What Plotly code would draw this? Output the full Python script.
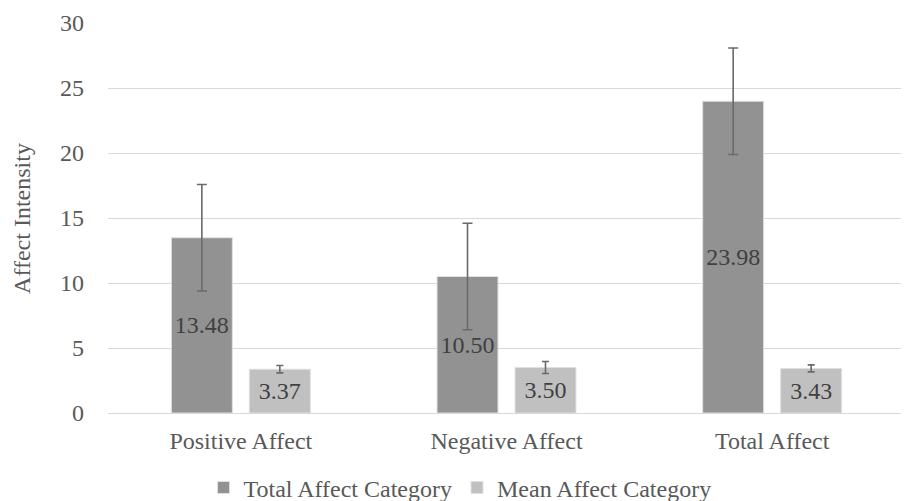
import plotly.graph_objects as go

categories = ["Positive Affect", "Negative Affect", "Total Affect"]
total_vals = [13.48, 10.50, 23.98]
total_err = [4.1, 4.1, 4.1]
mean_vals = [3.37, 3.50, 3.43]
mean_err = [0.28, 0.46, 0.27]
y_ticks = [0, 5, 10, 15, 20, 25, 30]

FONT = "Liberation Serif"
FS = 24

fig = go.Figure()
fig.add_trace(go.Bar(
    name="Total Affect Category", x=categories, y=total_vals,
    marker=dict(color="#929292", line=dict(color="#e0e0e0", width=1)),
    error_y=dict(type="data", array=total_err, color="#6a6a6a", thickness=1.6, width=5),
    text=[f"{v:.2f}" for v in total_vals], textposition="inside",
    insidetextanchor="middle", constraintext="none",
    textfont=dict(family=FONT, size=FS, color="#404040"),
))
fig.add_trace(go.Bar(
    name="Mean Affect Category", x=categories, y=mean_vals,
    marker=dict(color="#c0c0c0", line=dict(color="#e0e0e0", width=1)),
    error_y=dict(type="data", array=mean_err, color="#6a6a6a", thickness=1.6, width=3.5),
    text=[f"{v:.2f}" for v in mean_vals], textposition="inside",
    insidetextanchor="middle", constraintext="none",
    textfont=dict(family=FONT, size=FS, color="#404040"),
))

fig.update_layout(
    width=901, height=493,
    margin=dict(l=100, r=4, t=15, b=88, autoexpand=False),
    paper_bgcolor="white", plot_bgcolor="white",
    barmode="group", bargap=0.413, bargroupgap=0.218,
    font=dict(family=FONT, size=FS, color="#595959"),
    showlegend=True,
    legend=dict(orientation="h", x=0.4417, xanchor="center", y=-0.192, yanchor="middle",
                font=dict(family=FONT, size=FS, color="#595959"),
                itemwidth=30, traceorder="normal"),
    xaxis=dict(showline=True, linecolor="#d9d9d9", linewidth=1, ticks="", automargin=False,
               ticklabelstandoff=6,
               tickfont=dict(family=FONT, size=FS, color="#595959")),
    yaxis=dict(range=[0, 30], tickvals=y_ticks, showgrid=True, gridcolor="#d9d9d9",
               gridwidth=1, zeroline=False, ticks="", ticklen=0, automargin=False,
               ticklabelstandoff=23,
               tickfont=dict(family=FONT, size=FS, color="#595959")),
    annotations=[dict(text="Affect Intensity", xref="paper", yref="paper",
                      x=-0.108, y=0.5, xanchor="center", yanchor="middle", textangle=-90,
                      showarrow=False, font=dict(family=FONT, size=FS, color="#595959"))],
)

fig.write_html("out.html")
